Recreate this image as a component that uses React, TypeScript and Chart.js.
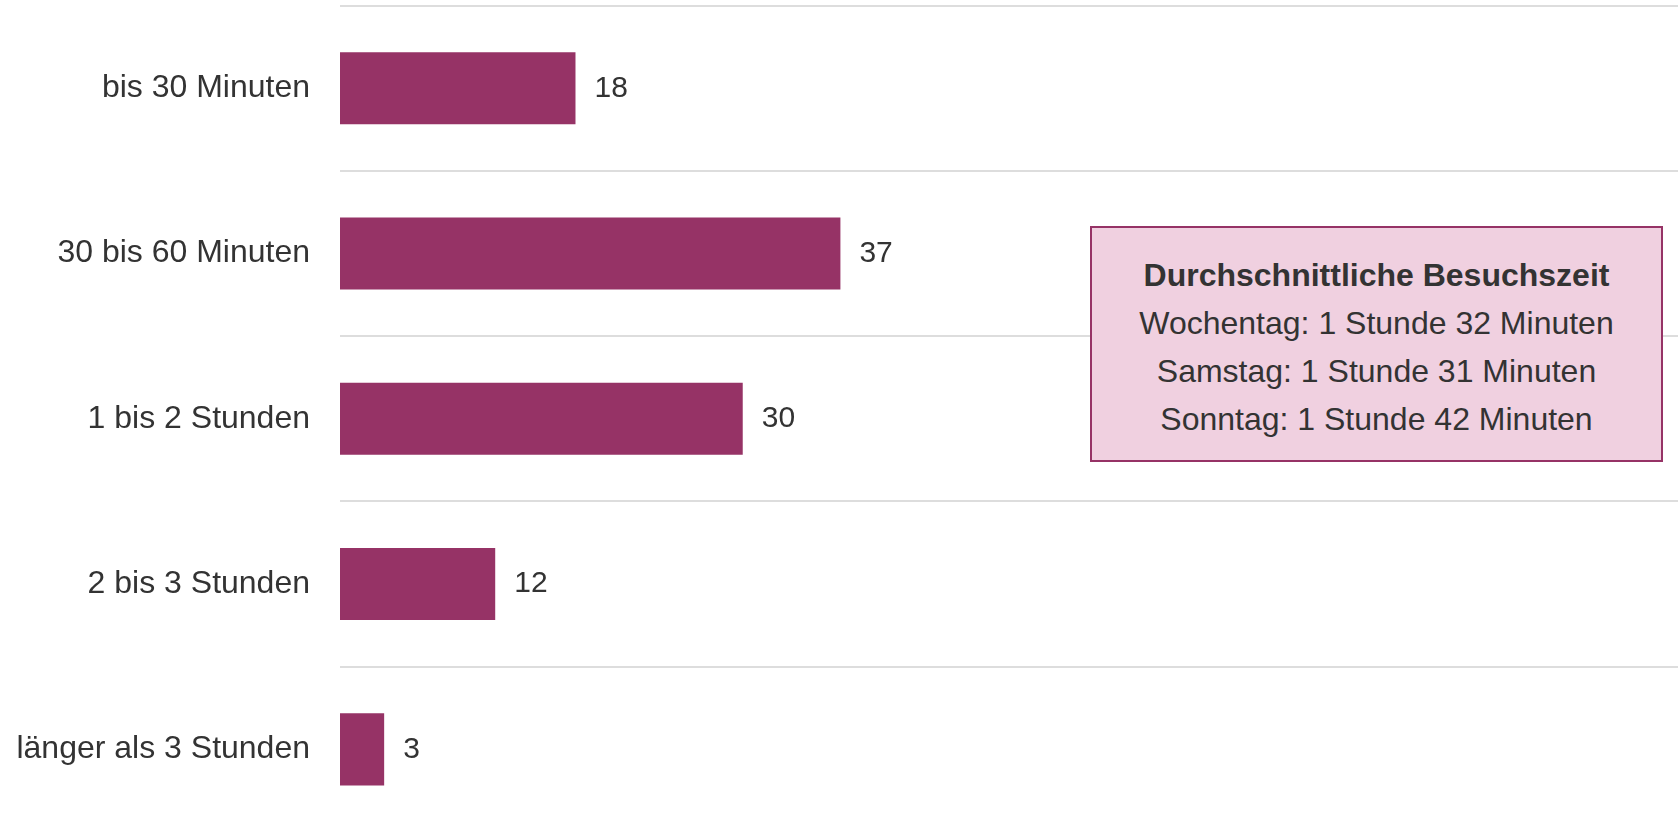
import React, { useEffect, useRef } from "react";
import { Chart, registerables } from "chart.js";

Chart.register(...registerables);

const categories = [
  "bis 30 Minuten",
  "30 bis 60 Minuten",
  "1 bis 2 Stunden",
  "2 bis 3 Stunden",
  "länger als 3 Stunden",
];
const shares = [17.6, 37.4, 30.1, 11.6, 3.3];
const boxTitle = "Durchschnittliche Besuchszeit";
const boxLines = [
  "Wochentag: 1 Stunde 32 Minuten",
  "Samstag: 1 Stunde 31 Minuten",
  "Sonntag: 1 Stunde 42 Minuten",
];

const FONT = "'Liberation Sans', Arial, Helvetica, sans-serif";
const TEXT = "#333333";
const BAR = "#963366";

const valueLabels = {
  id: "valueLabels",
  afterDatasetsDraw(chart: any) {
    const ctx = chart.ctx;
    const meta = chart.getDatasetMeta(0);
    const data = chart.data.datasets[0].data as number[];
    ctx.save();
    ctx.font = `30px ${FONT}`;
    ctx.fillStyle = TEXT;
    ctx.textAlign = "left";
    ctx.textBaseline = "middle";
    meta.data.forEach((bar: any, i: number) => {
      ctx.fillText(String(Math.round(data[i])), bar.x + 19, bar.y);
    });
    ctx.restore();
  },
};

export default function App() {
  const ref = useRef<HTMLCanvasElement>(null);
  useEffect(() => {
    if (!ref.current) return;
    const chart = new Chart(ref.current, {
      type: "bar",
      data: {
        labels: categories,
        datasets: [
          {
            data: shares,
            backgroundColor: BAR,
            barPercentage: 0.436,
            categoryPercentage: 1,
          },
        ],
      },
      options: {
        indexAxis: "y",
        responsive: true,
        maintainAspectRatio: false,
        animation: false,
        layout: { padding: { top: 5.6, left: 0, right: 0, bottom: 0 } },
        plugins: { legend: { display: false }, tooltip: { enabled: false } },
        scales: {
          x: { display: false, min: 0, max: 100 },
          y: {
            grid: { color: "#dddddd", lineWidth: 2, drawTicks: false, offset: true },
            border: { display: false },
            ticks: { color: TEXT, font: { size: 32, family: FONT }, padding: 30 },
            afterFit: (s: any) => {
              s.width = 340;
              s.paddingTop = 0;
              s.paddingBottom = 0;
            },
          },
        },
      },
      plugins: [valueLabels],
    });
    return () => chart.destroy();
  }, []);

  return (
    <div
      style={{
        position: "fixed",
        left: 0,
        top: 0,
        width: 1678,
        height: 828,
        overflow: "hidden",
        background: "#ffffff",
      }}
    >
      <div style={{ position: "relative", width: 1678, height: 832 }}>
        <canvas ref={ref} />
        <div
          style={{
            position: "absolute",
            left: 1090,
            top: 226,
            width: 573,
            height: 236,
            boxSizing: "border-box",
            border: "2px solid " + BAR,
            background: "#f0d0e0",
            paddingTop: 23,
            textAlign: "center",
            fontFamily: FONT,
            fontSize: 32,
            lineHeight: "48px",
            color: TEXT,
          }}
        >
          <div style={{ fontWeight: "bold" }}>{boxTitle}</div>
          {boxLines.map((l) => (
            <div key={l}>{l}</div>
          ))}
        </div>
      </div>
    </div>
  );
}
